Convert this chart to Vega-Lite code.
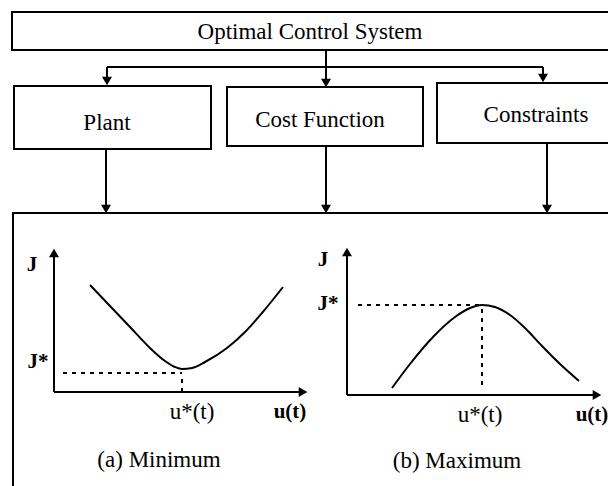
{
  "$schema": "https://vega.github.io/schema/vega-lite/v6.json",
  "autosize": {"type": "none"},
  "width": 608,
  "height": 486,
  "padding": 0,
  "background": "white",
  "config": {"view": {"stroke": null}},
  "datasets": {
    "boxes": [
      {"name": "Optimal Control System", "x": 12, "x2": 640, "y": 12, "y2": 50},
      {"name": "Plant", "x": 14, "x2": 211, "y": 86, "y2": 149},
      {"name": "Cost Function", "x": 227, "x2": 423, "y": 87, "y2": 146},
      {"name": "Constraints", "x": 437, "x2": 640, "y": 83, "y2": 143},
      {"name": "Results", "x": 13, "x2": 640, "y": 213, "y2": 520}
    ],
    "solid": [
      {"x": 326, "y": 50, "x2": 326, "y2": 80},
      {"x": 107, "y": 67, "x2": 543, "y2": 67},
      {"x": 107, "y": 67, "x2": 107, "y2": 78},
      {"x": 543, "y": 67, "x2": 543, "y2": 75},
      {"x": 106, "y": 149, "x2": 106, "y2": 206},
      {"x": 326, "y": 146, "x2": 326, "y2": 206},
      {"x": 547, "y": 143, "x2": 547, "y2": 206},
      {"x": 54, "y": 256, "x2": 54, "y2": 392},
      {"x": 54, "y": 392, "x2": 300, "y2": 392},
      {"x": 347, "y": 255, "x2": 347, "y2": 395},
      {"x": 347, "y": 395, "x2": 594, "y2": 395}
    ],
    "dashed": [
      {"x": 63, "y": 373, "x2": 182, "y2": 373},
      {"x": 182, "y": 379, "x2": 182, "y2": 391},
      {"x": 358, "y": 305, "x2": 482, "y2": 305},
      {"x": 482, "y": 309, "x2": 482, "y2": 387}
    ],
    "down": [
      {"x": 107, "y": 81}, {"x": 326, "y": 83}, {"x": 543, "y": 78},
      {"x": 106, "y": 209}, {"x": 326, "y": 209}, {"x": 547, "y": 209}
    ],
    "up": [{"x": 54, "y": 253}, {"x": 347, "y": 252}],
    "right": [{"x": 303, "y": 392}, {"x": 597, "y": 395}],
    "curves": [
      {"c": "min", "x": 90, "y": 285}, {"c": "min", "x": 110, "y": 306},
      {"c": "min", "x": 130, "y": 327}, {"c": "min", "x": 150, "y": 348},
      {"c": "min", "x": 165, "y": 361}, {"c": "min", "x": 175, "y": 367},
      {"c": "min", "x": 182, "y": 369}, {"c": "min", "x": 192, "y": 368},
      {"c": "min", "x": 205, "y": 362}, {"c": "min", "x": 227, "y": 348},
      {"c": "min", "x": 245, "y": 332}, {"c": "min", "x": 262, "y": 313},
      {"c": "min", "x": 283, "y": 287},
      {"c": "max", "x": 392, "y": 388}, {"c": "max", "x": 410, "y": 364},
      {"c": "max", "x": 433, "y": 337}, {"c": "max", "x": 455, "y": 317},
      {"c": "max", "x": 470, "y": 308}, {"c": "max", "x": 482, "y": 305},
      {"c": "max", "x": 495, "y": 307}, {"c": "max", "x": 510, "y": 315},
      {"c": "max", "x": 525, "y": 328}, {"c": "max", "x": 542, "y": 346},
      {"c": "max", "x": 560, "y": 364}, {"c": "max", "x": 579, "y": 381}
    ],
    "titles": [
      {"t": "Optimal Control System", "x": 310, "y": 32},
      {"t": "Plant", "x": 107, "y": 123},
      {"t": "Cost Function", "x": 320, "y": 120},
      {"t": "Constraints", "x": 536, "y": 115},
      {"t": "u*(t)", "x": 192, "y": 412},
      {"t": "u*(t)", "x": 480, "y": 415},
      {"t": "(a) Minimum", "x": 159, "y": 460},
      {"t": "(b) Maximum", "x": 457, "y": 461}
    ],
    "bold": [
      {"t": "J", "x": 32, "y": 265},
      {"t": "J*", "x": 38, "y": 362},
      {"t": "u(t)", "x": 290, "y": 412},
      {"t": "J", "x": 323, "y": 260},
      {"t": "J*", "x": 328, "y": 304},
      {"t": "u(t)", "x": 592, "y": 415}
    ]
  },
  "encoding": {
    "x": {"field": "x", "type": "quantitative", "scale": {"domain": [0, 608], "nice": false, "zero": false}, "axis": null},
    "y": {"field": "y", "type": "quantitative", "scale": {"domain": [0, 486], "nice": false, "zero": false, "reverse": true}, "axis": null}
  },
  "layer": [
    {
      "data": {"name": "boxes"},
      "mark": {"type": "rect", "fill": null, "stroke": "black", "strokeWidth": 2, "clip": true},
      "encoding": {
        "x2": {"field": "x2"},
        "y2": {"field": "y2"}
      }
    },
    {
      "data": {"name": "solid"},
      "mark": {"type": "rule", "stroke": "black", "strokeWidth": 2, "clip": true},
      "encoding": {
        "x2": {"field": "x2"},
        "y2": {"field": "y2"}
      }
    },
    {
      "data": {"name": "dashed"},
      "mark": {"type": "rule", "stroke": "black", "strokeWidth": 2, "strokeDash": [4, 5]},
      "encoding": {
        "x2": {"field": "x2"},
        "y2": {"field": "y2"}
      }
    },
    {
      "data": {"name": "curves"},
      "mark": {"type": "line", "stroke": "black", "strokeWidth": 2, "interpolate": "monotone"},
      "encoding": {
        "detail": {"field": "c"}
      }
    },
    {
      "data": {"name": "down"},
      "mark": {"type": "point", "shape": "triangle-down", "filled": true, "color": "black", "opacity": 1, "size": 100},
      "encoding": {}
    },
    {
      "data": {"name": "up"},
      "mark": {"type": "point", "shape": "triangle-up", "filled": true, "color": "black", "opacity": 1, "size": 100},
      "encoding": {}
    },
    {
      "data": {"name": "right"},
      "mark": {"type": "point", "shape": "triangle-right", "filled": true, "color": "black", "opacity": 1, "size": 100},
      "encoding": {}
    },
    {
      "data": {"name": "titles"},
      "mark": {"type": "text", "font": "Liberation Serif, Times New Roman, serif", "fontSize": 23, "color": "black", "align": "center", "baseline": "middle"},
      "encoding": {
        "text": {"field": "t"}
      }
    },
    {
      "data": {"name": "bold"},
      "mark": {"type": "text", "font": "Liberation Serif, Times New Roman, serif", "fontSize": 21, "fontWeight": "bold", "color": "black", "align": "center", "baseline": "middle"},
      "encoding": {
        "text": {"field": "t"}
      }
    }
  ]
}
